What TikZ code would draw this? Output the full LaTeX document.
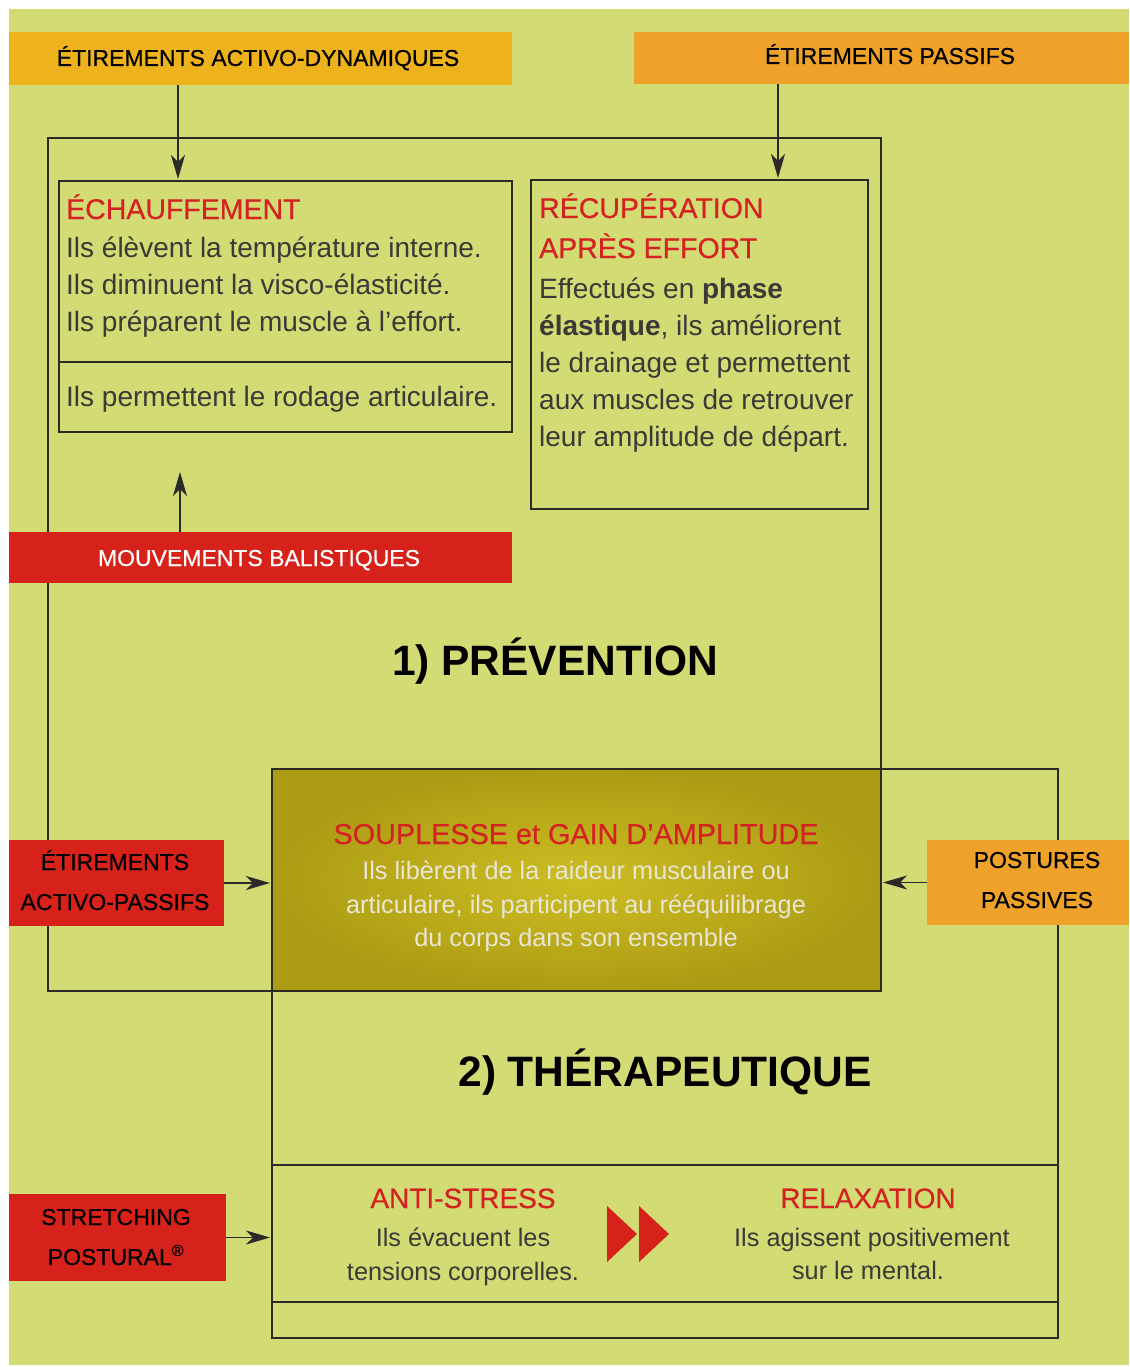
\documentclass[tikz,border=0pt]{standalone}
\usepackage{fontspec}
\setmainfont{Liberation Sans}
\newfontfamily\labfont[FakeBold=0.5]{Liberation Sans}
\usetikzlibrary{arrows.meta}
\definecolor{bg}{HTML}{D2DB74}
\definecolor{barA}{HTML}{EEB21C}
\definecolor{barB}{HTML}{EFA22A}
\definecolor{redbar}{HTML}{D6221A}
\definecolor{redtxt}{HTML}{D42222}
\definecolor{bodytxt}{HTML}{3A3A36}
\definecolor{lighttxt}{HTML}{E8E6D6}
\definecolor{linec}{HTML}{2A2A26}
\definecolor{goldin}{HTML}{CDBD22}
\definecolor{goldout}{HTML}{AC9C14}
\tikzset{
  box/.style={anchor=north west, inner sep=0pt, outer sep=0pt},
  frame/.style={draw=linec, line width=1.1pt},
  arr/.style={draw=linec, line width=1.3pt, -{Stealth[length=24pt,width=14pt,inset=7pt]}, shorten >=2pt},
  lab/.style={font=\labfont\fontsize{23}{23}\selectfont, inner sep=0pt, anchor=base},
  body/.style={font=\fontsize{28}{28}\selectfont, text=bodytxt, inner sep=0pt, anchor=base west},
  ttl/.style={font=\labfont\fontsize{28.5}{28.5}\selectfont, text=redtxt, inner sep=0pt, anchor=base west},
  ctitle/.style={font=\labfont\fontsize{28}{28}\selectfont, text=redtxt, inner sep=0pt, anchor=base},
  cbody/.style={font=\fontsize{25.3}{25.3}\selectfont, text=bodytxt, inner sep=0pt, anchor=base},
  big/.style={font=\bfseries\fontsize{42.5}{42.5}\selectfont, text=black, inner sep=0pt, anchor=base}
}
\begin{document}
\begin{tikzpicture}[x=1pt,y=-1pt]
\useasboundingbox (0,0) rectangle (1129,1367);
\fill[bg] (9,9) rectangle (1129,1365);

% frames
\node[frame, box, minimum width=833pt, minimum height=853pt] (prev) at (48,138) {};
\node[frame, box, minimum width=786pt, minimum height=569pt] (ther) at (272,769) {};
\node[frame, box, minimum width=786pt, minimum height=137pt] (band) at (272,1165) {};
\node[frame, box, minimum width=453pt, minimum height=251pt] (ech) at (59,181) {};
\node[frame, box, minimum width=337pt, minimum height=329pt] (recup) at (531,180) {};
\draw[frame] (ech.west |- 0,362) -- (ech.east |- 0,362);
\node[frame, box, inner color=goldin, outer color=goldout, minimum width=609pt, minimum height=222pt] (soup) at (272,769) {};

% coloured bars
\node[box, fill=barA, minimum width=503pt, minimum height=53pt] (barA) at (9,32) {};
\node[box, fill=barB, minimum width=495pt, minimum height=52pt] (barB) at (634,32) {};
\node[box, fill=redbar, minimum width=503pt, minimum height=51pt] (bal) at (9,532) {};
\node[box, fill=redbar, minimum width=215pt, minimum height=86pt] (ap) at (9,840) {};
\node[box, fill=barB, minimum width=202pt, minimum height=85pt] (pp) at (927,840) {};
\node[box, fill=redbar, minimum width=217pt, minimum height=87pt] (sp) at (9,1194) {};

% bar labels
\node[lab] (barAt) at (258,66) {ÉTIREMENTS ACTIVO-DYNAMIQUES};
\node[lab] (barBt) at (890,64) {ÉTIREMENTS PASSIFS};
\node[lab, text=white] (balt) at (259,566) {MOUVEMENTS BALISTIQUES};
\node[lab] (apt1) at (115,870) {ÉTIREMENTS};
\node[lab] (apt2) at (115,910) {ACTIVO-PASSIFS};
\node[lab] (ppt1) at (1037,868) {POSTURES};
\node[lab] (ppt2) at (1037,908) {PASSIVES};
\node[lab] (spt1) at (116,1225) {STRETCHING};
\node[lab] (spt2) at (116,1265) {POSTURAL\textsuperscript{®}};

% connectors
\coordinate (xA) at (178,0);
\coordinate (xB) at (778,0);
\coordinate (balTip) at (180,472);
\draw[arr] (barA.south -| xA) -- (ech.north -| xA);
\draw[arr] (barB.south -| xB) -- (recup.north -| xB);
\draw[arr, shorten >=0pt] (bal.north -| balTip) -- (balTip);
\draw[arr] (ap.east) -- (soup.west |- ap.east);
\draw[arr] (pp.west) -- (soup.east |- pp.west);
\draw[arr] (sp.east) -- (ther.west |- sp.east);

% echauffement
\node[ttl] (echT) at (66,219) {ÉCHAUFFEMENT};
\node[body] (e1) at (66,257) {Ils élèvent la température interne.};
\node[body] (e2) at (66,294) {Ils diminuent la visco-élasticité.};
\node[body] (e3) at (66,331) {Ils préparent le muscle à l'effort.};
\node[body] (e4) at (66,406) {Ils permettent le rodage articulaire.};

% recuperation
\node[ttl] (recT1) at (539,218) {RÉCUPÉRATION};
\node[ttl] (recT2) at (539,258) {APRÈS EFFORT};
\node[body] (r1) at (539,298) {Effectués en \textbf{phase}};
\node[body] (r2) at (539,335) {\textbf{élastique}, ils améliorent};
\node[body] (r3) at (539,372) {le drainage et permettent};
\node[body] (r4) at (539,409) {aux muscles de retrouver};
\node[body] (r5) at (539,446) {leur amplitude de départ.};

% big titles
\node[big] (prevT) at (555,675) {1) PRÉVENTION};
\node[big] (therT) at (665,1086) {2) THÉRAPEUTIQUE};

% souplesse
\node[ctitle, font=\labfont\fontsize{28.8}{28.8}\selectfont] (soupT) at (576,844) {SOUPLESSE et GAIN D’AMPLITUDE};
\node[cbody, text=lighttxt] (s1) at (576,879) {Ils libèrent de la raideur musculaire ou};
\node[cbody, text=lighttxt] (s2) at (576,913) {articulaire, ils participent au rééquilibrage};
\node[cbody, text=lighttxt] (s3) at (576,946) {du corps dans son ensemble};

% anti-stress / relaxation
\node[ctitle] (asT) at (463,1208) {ANTI-STRESS};
\node[cbody] (as1) at (463,1246) {Ils évacuent les};
\node[cbody] (as2) at (463,1280) {tensions corporelles.};
\fill[redbar] (607,1206) -- (637,1234) -- (607,1262) -- cycle;
\fill[redbar] (639,1206) -- (669,1234) -- (639,1262) -- cycle;
\node[ctitle] (rxT) at (868,1208) {RELAXATION};
\node[cbody] (rx1) at (872,1246) {Ils agissent positivement};
\node[cbody] (rx2) at (868,1279) {sur le mental.};
\end{tikzpicture}
\end{document}
